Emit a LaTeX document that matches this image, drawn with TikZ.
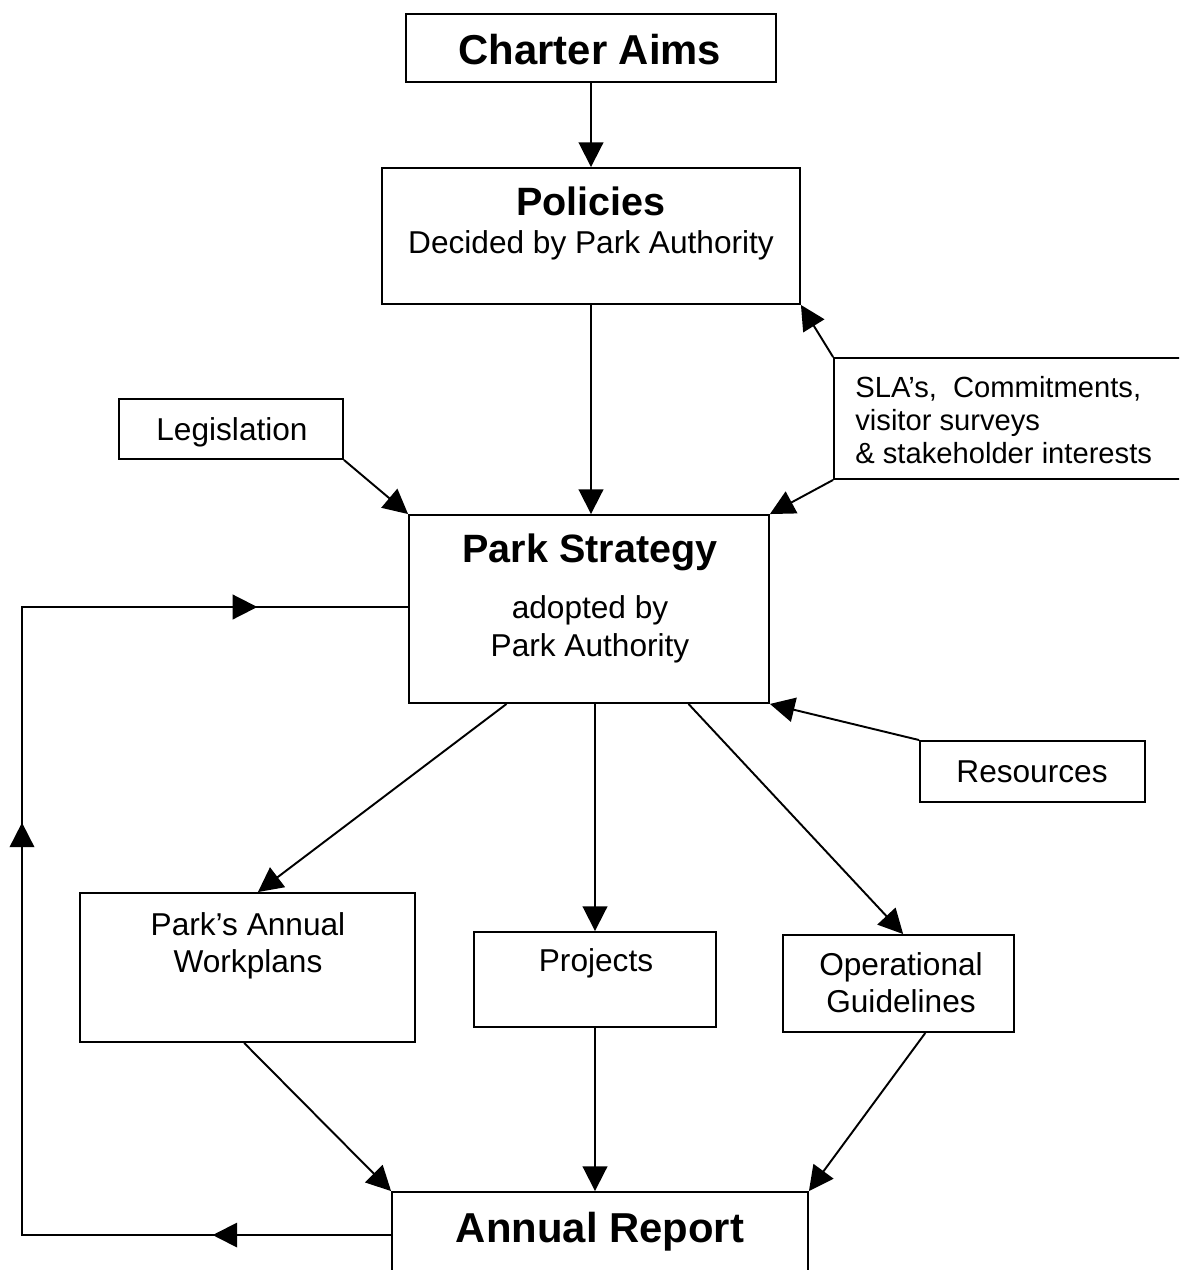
\documentclass[tikz,border=0pt]{standalone}
\usepackage{fontspec}
\setmainfont{Liberation Sans}
\usetikzlibrary{arrows.meta,decorations.markings,calc}
\begin{document}
\begin{tikzpicture}[x=0.02cm,y=-0.02cm,
  box/.style={draw,line width=1.1pt,inner sep=0pt},
  arr/.style={line width=1.1pt,-{Triangle[length=14pt,width=14pt]}},
  big/.style={font=\fontsize{23.8}{28}\selectfont\bfseries,anchor=base},
  mid/.style={font=\fontsize{22.5}{27}\selectfont\bfseries,anchor=base},
  txt/.style={font=\fontsize{18}{21}\selectfont,anchor=base},
  small/.style={font=\fontsize{16.6}{19}\selectfont,anchor=base west,inner sep=0pt},
  fbtip/.style={decoration={markings,
      mark=at position 0.129 with {\arrow{Triangle[length=14pt,width=14pt]}},
      mark=at position 0.565 with {\arrow{Triangle[length=14pt,width=14pt]}},
      mark=at position 0.891 with {\arrow{Triangle[length=14pt,width=14pt]}}},
      postaction=decorate}
]
\clip (0,0) rectangle (1179,1270);
\fill[white] (0,0) rectangle (1179,1270);

% boxes
\node[box,minimum width=7.40cm,minimum height=1.36cm] (ca) at (591,48) {};
\node[box,minimum width=8.36cm,minimum height=2.72cm] (pol) at (591,236) {};
\node[box,minimum width=4.48cm,minimum height=1.20cm] (leg) at (231,429) {};
\node[box,minimum width=7.72cm,minimum height=2.42cm] (sla) at (1027,418.5) {};
\node[box,minimum width=7.20cm,minimum height=3.76cm] (ps) at (589,609) {};
\node[box,minimum width=4.50cm,minimum height=1.22cm] (res) at (1032.5,771.5) {};
\node[box,minimum width=6.70cm,minimum height=2.98cm] (wp) at (247.5,967.5) {};
\node[box,minimum width=4.84cm,minimum height=1.90cm] (pj) at (595,979.5) {};
\node[box,minimum width=4.62cm,minimum height=1.94cm] (op) at (898.5,983.5) {};
\node[box,minimum width=8.32cm,minimum height=2.16cm] (ar) at (600,1246) {};

% texts
\node[big] (tca) at (590,65) {Charter Aims};
\node[mid] (tpol) at (591,216) {Policies};
\node[txt] (tpol2) at (591,254) {Decided by Park Authority};
\node[txt] (tleg) at (232,440) {Legislation};
\node[small] (tsla1) at (855,397) {SLA’s,\ \ Commitments,};
\node[small] (tsla2) at (855,430) {visitor surveys};
\node[small] (tsla3) at (855,463) {\& stakeholder interests};
\node[mid] (tps) at (590,562) {Park Strategy};
\node[txt] (tps2) at (590,618) {adopted by};
\node[txt] (tps3) at (590,656) {Park Authority};
\node[txt] (tres) at (1032,782) {Resources};
\node[txt] (twp1) at (248,935) {Park’s Annual};
\node[txt] (twp2) at (248,972) {Workplans};
\node[txt] (tpj) at (596,971) {Projects};
\node[txt] (top1) at (901,975) {Operational};
\node[txt] (top2) at (901,1012) {Guidelines};
\node[big] (tar) at (600,1242) {Annual Report};

% connectors
\draw[arr] (ca.south) -- (pol.north);
\draw[arr] (pol.south) -- (pol.south |- ps.north);
\draw[arr] (leg.south east) -- (ps.north west);
\draw[arr] (sla.south west) -- (ps.north east);
\draw[arr] (sla.north west) -- (pol.south east);
\draw[arr] (res.north west) -- (ps.south east);
\draw[arr] ($(ps.south west)!0.272!(ps.south east)$) -- ($(wp.north west)!0.531!(wp.north east)$);
\draw[arr] (ps.south -| pj.north) -- (pj.north);
\draw[arr] ($(ps.south west)!0.775!(ps.south east)$) -- ($(op.north west)!0.52!(op.north east)$);
\draw[arr] ($(wp.south west)!0.49!(wp.south east)$) -- (ar.north west);
\draw[arr] (pj.south) -- (pj.south |- ar.north);
\draw[arr] ($(op.south west)!0.615!(op.south east)$) -- (ar.north east);

% feedback loop
\coordinate (fbs) at ($(ar.north west)+(0,44)$);
\coordinate (fbl) at (22,0);
\coordinate (fbt) at (0,607);
\draw[line width=1.1pt,fbtip] (fbs) -- (fbl |- fbs) -- (fbl |- fbt) -- (ps.west |- fbt);
\end{tikzpicture}
\end{document}
